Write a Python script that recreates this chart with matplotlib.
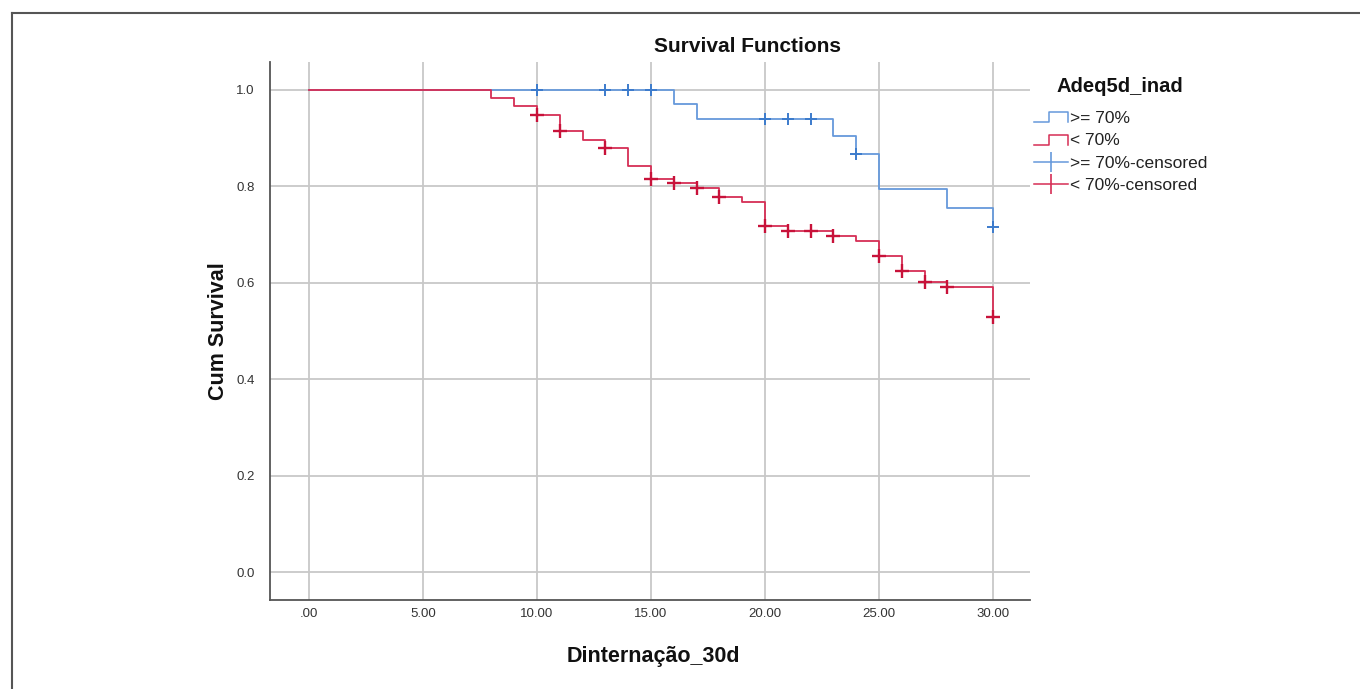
import matplotlib
matplotlib.use("Agg")
import matplotlib.pyplot as plt
import numpy as np
from matplotlib.legend_handler import HandlerBase
from matplotlib.lines import Line2D

# Kaplan-Meier steps per group (time, cumulative survival after the event)
hi_times = [0, 16, 17, 23, 24, 25, 28, 30]
hi_surv = [1.0, 0.970, 0.940, 0.904, 0.867, 0.794, 0.755, 0.716]
hi_censored = [10, 13, 14, 15, 20, 21, 22, 24, 30]

lo_times = [0, 8, 9, 10, 11, 12, 13, 14, 15, 16, 17, 18, 19, 20, 21, 23, 24, 25, 26, 27, 28, 30]
lo_surv = [1.0, 0.983, 0.966, 0.949, 0.914, 0.897, 0.879, 0.842, 0.816, 0.806, 0.796,
           0.777, 0.767, 0.718, 0.708, 0.698, 0.687, 0.656, 0.624, 0.601, 0.591, 0.530]
lo_censored = [10, 11, 13, 15, 16, 17, 18, 20, 21, 22, 23, 25, 26, 27, 28, 30]

group_labels = [">= 70%", "< 70%"]
x_ticks = [0, 5, 10, 15, 20, 25, 30]
y_ticks = [0.0, 0.2, 0.4, 0.6, 0.8, 1.0]

BLUE = "#6699DB"
BLUE_DARK = "#3C7BCC"
RED = "#D62E55"
RED_DARK = "#C8123A"
GRID = "#C8C8C8"


class StepHandler(HandlerBase):
	def create_artists(self, legend, orig_handle, xdescent, ydescent, width, height, fontsize, trans):
		x0, x1 = -xdescent, -xdescent + width
		xm = x0 + width * 0.45
		ylo, yhi = -ydescent + height * 0.05, -ydescent + height * 0.85
		line = Line2D([x0, xm, xm, x1, x1], [ylo, ylo, yhi, yhi, ylo],
		              color=orig_handle.get_color(), linewidth=1.1, transform=trans)
		return [line]


def _surv_at(times, surv, t):
	idx = np.searchsorted(times, t, side="right") - 1
	return surv[idx]


def _fmt_x(v):
	s = f"{v:.2f}"
	return s[1:] if s.startswith("0") else s


def main() -> None:
	plt.rcParams["font.family"] = ["Liberation Sans", "DejaVu Sans"]
	fig = plt.figure(figsize=(13.6, 6.89), dpi=100)
	ax = fig.add_axes([270 / 1360, 1 - 600 / 689, 760 / 1360, 538 / 689])

	ax.plot(hi_times, hi_surv, drawstyle="steps-post", color=BLUE, linewidth=1.3, zorder=3)
	ax.plot(lo_times, lo_surv, drawstyle="steps-post", color=RED, linewidth=1.3, zorder=3)

	hi_cy = [_surv_at(hi_times, hi_surv, t) for t in hi_censored]
	lo_cy = [_surv_at(lo_times, lo_surv, t) for t in lo_censored]
	ax.plot(hi_censored, hi_cy, linestyle="none", marker="+", markersize=9,
	        markeredgewidth=1.4, color=BLUE_DARK, zorder=4)
	ax.plot(lo_censored, lo_cy, linestyle="none", marker="+", markersize=10,
	        markeredgewidth=1.7, color=RED_DARK, zorder=4)

	ax.set_xlim(-1.71, 31.62)
	ax.set_ylim(-0.058, 1.058)
	ax.set_xticks(x_ticks)
	ax.set_xticklabels([_fmt_x(v) for v in x_ticks])
	ax.set_yticks(y_ticks)
	ax.set_yticklabels([f"{v:.1f}" for v in y_ticks])
	ax.tick_params(length=0, labelsize=9.5, colors="#333333")
	ax.tick_params(axis="x", pad=6)
	ax.tick_params(axis="y", pad=11)
	ax.grid(True, color=GRID, linewidth=1.3)
	ax.set_axisbelow(True)
	for side in ("top", "right"):
		ax.spines[side].set_visible(False)
	for side in ("left", "bottom"):
		ax.spines[side].set_color("#555555")
		ax.spines[side].set_linewidth(1.3)

	ax.set_xlabel("Dinternação_30d", fontsize=15.5, fontweight="bold", color="#111111")
	ax.xaxis.set_label_coords(0.505, -0.086)
	ax.set_ylabel("Cum Survival", fontsize=15.5, fontweight="bold", color="#111111")
	ax.yaxis.set_label_coords(-0.054, 0.5)

	fig.text(747 / 1360, 1 - 46 / 689, "Survival Functions", ha="center", va="center",
	         fontsize=15, fontweight="bold", color="#111111")

	handles = [
		Line2D([], [], color=BLUE),
		Line2D([], [], color=RED),
		Line2D([], [], color=BLUE, marker="|", markersize=14, markeredgewidth=1.2, linewidth=1.1),
		Line2D([], [], color=RED, marker="|", markersize=14, markeredgewidth=1.2, linewidth=1.1),
	]
	labels = group_labels + [f"{g}-censored" for g in group_labels]
	leg = fig.legend(handles, labels, loc="upper left", bbox_to_anchor=(1018 / 1360, 1 - 95 / 689),
	                 frameon=False, fontsize=12.5, handlelength=2.0,
	                 handletextpad=0.1, labelspacing=0.42, numpoints=1,
	                 handler_map={handles[0]: StepHandler(), handles[1]: StepHandler()})
	for t in leg.get_texts():
		t.set_color("#222222")
	fig.text(1120 / 1360, 1 - 86 / 689, "Adeq5d_inad", ha="center", va="center",
	         fontsize=14.5, fontweight="bold", color="#111111")

	# outer frame (left and top edges)
	fig.add_artist(Line2D([12 / 1360, 12 / 1360], [0, 1 - 13 / 689], transform=fig.transFigure,
	                      color="#555555", linewidth=1.5))
	fig.add_artist(Line2D([12 / 1360, 1], [1 - 13 / 689, 1 - 13 / 689], transform=fig.transFigure,
	                      color="#555555", linewidth=1.5))

	fig.savefig("out.png", dpi=100)


if __name__ == "__main__":
	main()
